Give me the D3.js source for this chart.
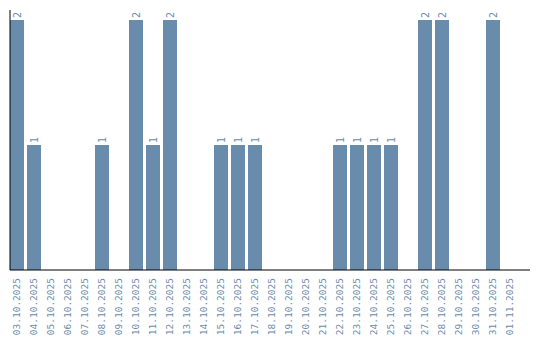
<!DOCTYPE html>
<html>
<head>
<meta charset="utf-8">
<script src="https://cdn.jsdelivr.net/npm/d3@7"></script>
<style>
  body { margin: 0; background: #fff; }
  text { font-family: "DejaVu Sans Mono", monospace; }
</style>
</head>
<body>
<svg width="540" height="340"></svg>
<script>
// daily counts, 03.10.2025 - 01.11.2025
var days = ["03.10.2025","04.10.2025","05.10.2025","06.10.2025","07.10.2025","08.10.2025",
    "09.10.2025","10.10.2025","11.10.2025","12.10.2025","13.10.2025","14.10.2025",
    "15.10.2025","16.10.2025","17.10.2025","18.10.2025","19.10.2025","20.10.2025",
    "21.10.2025","22.10.2025","23.10.2025","24.10.2025","25.10.2025","26.10.2025",
    "27.10.2025","28.10.2025","29.10.2025","30.10.2025","31.10.2025","01.11.2025"];
var counts = [2,1,0,0,0,1,0,2,1,2,0,0,1,1,1,0,0,0,0,1,1,1,1,0,2,2,0,0,2,0];

var color = "#6a8cac";

var svg = d3.select("svg");

var x = d3.scaleBand()
    .domain(days)
    .range([10, 517])
    .paddingInner(3/17)
    .paddingOuter(0);

var y = d3.scaleLinear()
    .domain([0, 2])
    .range([270, 20]);

var data = days.map(function (d, i) { return {day: d, n: counts[i]}; });

svg.append("g")
    .selectAll("rect")
    .data(data)
    .enter().append("rect")
    .attr("x", function (d) { return x(d.day); })
    .attr("y", function (d) { return y(d.n); })
    .attr("width", x.bandwidth())
    .attr("height", function (d) { return y(0) - y(d.n); })
    .attr("fill", color);

// value labels
svg.append("g")
    .selectAll("text")
    .data(data.filter(function (d) { return d.n > 0; }))
    .enter().append("text")
    .attr("transform", function (d) {
        return "translate(" + (x(d.day) + x.bandwidth() / 2) + "," + (y(d.n) - 2) + ") rotate(-90)";
    })
    .attr("dy", "0.35em")
    .style("font-size", "10px")
    .attr("fill", color)
    .text(function (d) { return d.n; });

// x axis
var xAxis = svg.append("g")
    .attr("transform", "translate(0,270)");

xAxis.append("line")
    .attr("x1", 10).attr("x2", 530)
    .attr("stroke", "#000");

xAxis.selectAll("text")
    .data(days)
    .enter().append("text")
    .attr("transform", function (d) {
        return "translate(" + (x(d) + x.bandwidth() / 2) + ",8) rotate(-90)";
    })
    .attr("dy", "0.35em")
    .attr("text-anchor", "end")
    .style("font-size", "9.5px")
    .attr("fill", color)
    .text(function (d) { return d; });

// y axis line
svg.append("line")
    .attr("x1", 10).attr("x2", 10)
    .attr("y1", 10).attr("y2", 270)
    .attr("stroke", "#000");
</script>
</body>
</html>
